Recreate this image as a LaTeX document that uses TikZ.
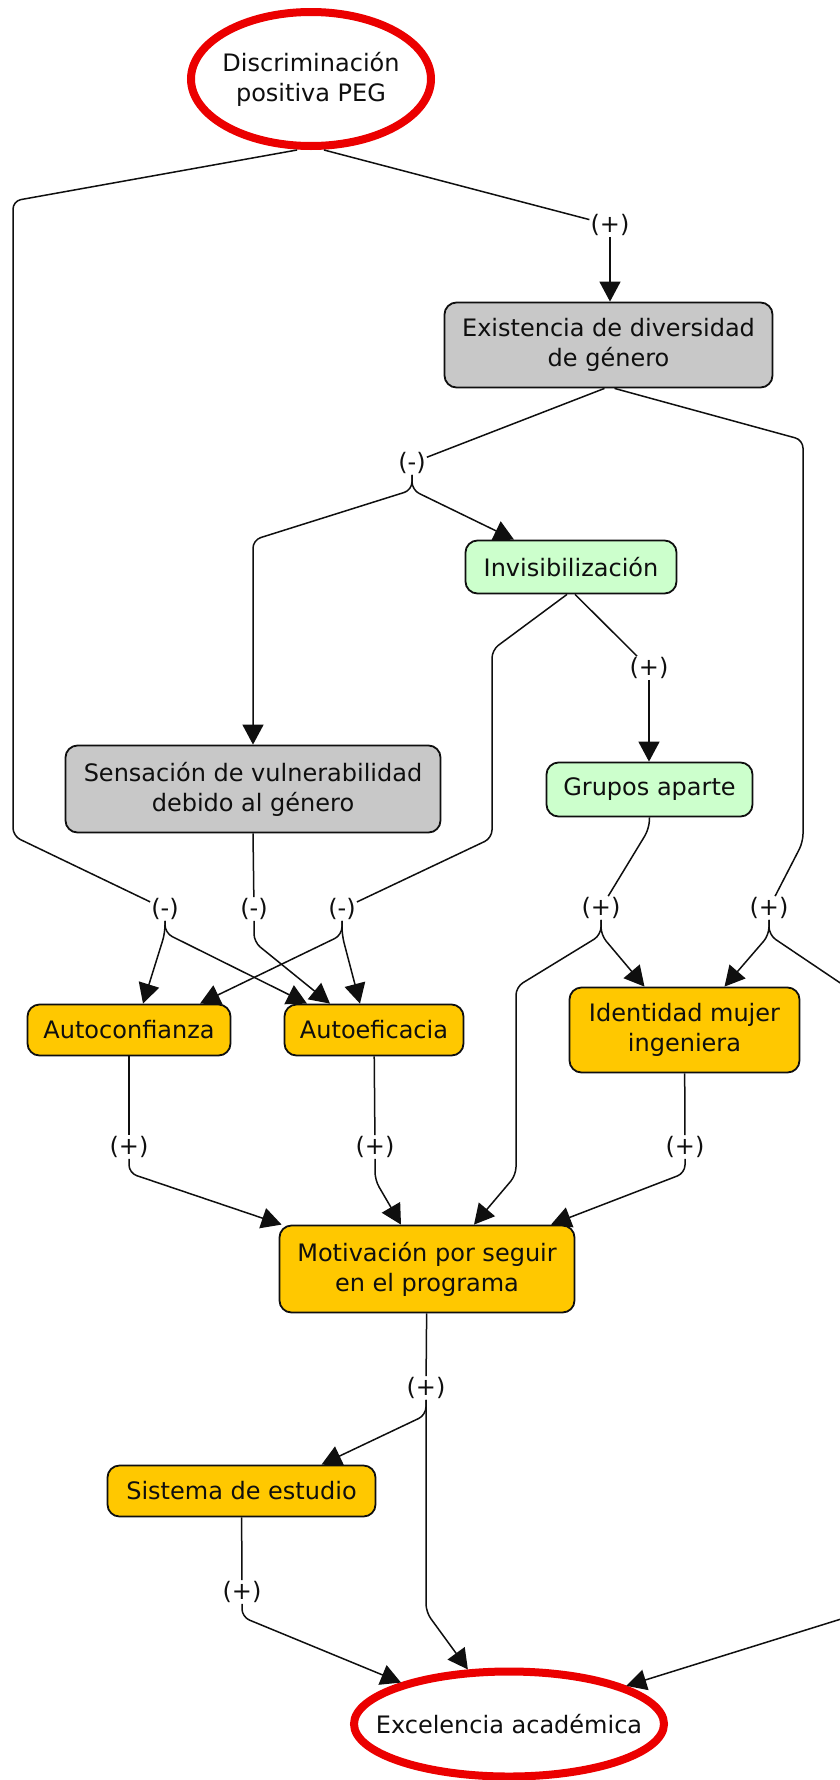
\documentclass[tikz,border=0pt]{standalone}
\usepackage{fontspec}
\setmainfont{DejaVu Sans}
\usetikzlibrary{arrows.meta,calc,shapes.geometric}
\definecolor{boxgray}{RGB}{200,200,200}
\definecolor{boxgreen}{RGB}{204,255,204}
\definecolor{boxorange}{RGB}{255,200,0}
\definecolor{ellred}{RGB}{235,0,0}
\definecolor{inkc}{RGB}{15,15,15}
\begin{document}
\begin{tikzpicture}[x=1pt,y=-1pt,
  every node/.style={font=\fontsize{24}{30}\selectfont, text=inkc},
  box/.style={draw=inkc, line width=1.8pt, rounded corners=12pt, inner sep=2pt, align=center},
  graybox/.style={box, fill=boxgray},
  greenbox/.style={box, fill=boxgreen},
  orangebox/.style={box, fill=boxorange},
  goal/.style={ellipse, draw=ellred, line width=8pt, inner xsep=-30pt, inner ysep=0pt, align=center},
  sign/.style={inner xsep=1pt, inner ysep=1pt},
  conn/.style={draw=inkc, line width=1.5pt, rounded corners=8pt},
  arr/.style={conn, -{Triangle[length=20pt,width=21pt]}},
]
\useasboundingbox (0,0) rectangle (839,1780);
\fill[white] (0,0) rectangle (839,1780);

% main nodes
\node[goal, minimum width=240pt, minimum height=134pt] (D) at (311,79) {Discriminación\\positiva PEG};
\node[graybox, minimum width=328pt, minimum height=85pt] (E) at (608.5,345) {Existencia de diversidad\\de género};
\node[greenbox, minimum width=211pt, minimum height=53pt] (I) at (571,567) {Invisibilización};
\node[graybox, minimum width=375pt, minimum height=87pt] (S) at (253,789) {Sensación de vulnerabilidad\\debido al género};
\node[greenbox, minimum width=206pt, minimum height=54pt] (G) at (649.5,789.5) {Grupos aparte};
\node[orangebox, minimum width=203pt, minimum height=51pt] (AC) at (129,1030) {Autoconfianza};
\node[orangebox, minimum width=179pt, minimum height=51pt] (AE) at (374,1030) {Autoeficacia};
\node[orangebox, minimum width=230pt, minimum height=85pt] (IM) at (684.5,1030) {Identidad mujer\\ingeniera};
\node[orangebox, minimum width=295pt, minimum height=87pt] (M) at (427,1269) {Motivación por seguir\\en el programa};
\node[orangebox, minimum width=268pt, minimum height=51pt] (SE) at (241.5,1491) {Sistema de estudio};
\node[goal, minimum width=310pt, minimum height=105pt] (X) at (509,1724) {Excelencia académica};

% sign labels
\node[sign] (p1) at (610,225) {(+)};
\node[sign] (m1) at (412,463) {(-)};
\node[sign] (p2) at (649,668) {(+)};
\node[sign] (m2) at (165,909) {(-)};
\node[sign] (m3) at (254,909) {(-)};
\node[sign] (m4) at (342,909) {(-)};
\node[sign] (p3) at (601,908) {(+)};
\node[sign] (p4) at (769,908) {(+)};
\node[sign] (p5) at (129,1147) {(+)};
\node[sign] (p6) at (375,1147) {(+)};
\node[sign] (p7) at (685,1147) {(+)};
\node[sign] (p8) at (426,1388) {(+)};
\node[sign] (p9) at (242,1592) {(+)};

% connectors
\draw[conn] ($(D.south)+(13,0)$) -- (p1);
\draw[arr] (p1) -- (p1 |- E.north);
\draw[conn] ($(D.south)+(-14,0)$) -- (13,201) -- (13,836) -- (m2);

\draw[conn] ($(E.south)+(-4,0)$) -- (m1);
\draw[conn] ($(E.south)+(6,0)$) -- (803,440) -- (803,842) -- (p4);

\draw[arr] (m1) -- (412,490) -- (253,540) -- (S.north);
\draw[arr] (m1) -- (412,490) -- ($(I.north)+(-57,0)$);

\draw[conn] ($(I.south)+(-4,0)$) -- (492,650) -- (492,838) -- (m4);
\draw[conn] ($(I.south)+(4,0)$) -- (p2);
\draw[arr] (p2) -- (p2 |- G.north);

\draw[conn] (S.south) -- (m3);
\draw[conn] (G.south) -- (649,829) -- (p3);

\draw[arr] (m2) -- (165,933) -- ($(AC.north)+(14,0)$);
\draw[arr] (m2) -- (165,933) -- ($(AE.north)+(-67,0)$);
\draw[arr] (m3) -- (254,942) -- ($(AE.north)+(-44,0)$);
\draw[arr] (m4) -- (342,935) -- ($(AC.north)+(71,0)$);
\draw[arr] (m4) -- (342,935) -- ($(AE.north)+(-14,0)$);

\draw[arr] (p3) -- (601,935) -- ($(IM.north)+(-40,0)$);
\draw[arr] (p3) -- (601,935) -- (516,987) -- (516,1175) -- ($(M.north)+(47,0)$);
\draw[arr] (p4) -- (769,935) -- ($(IM.north)+(40,0)$);
\draw[arr] (p4) -- (769,935) -- (870,1003) -- (870,1610) -- (X.18);

\draw[conn] (AC) -- (p5);
\draw[arr] (p5) -- (129,1173) -- ($(M.north west)+(3,0)$);
\draw[conn] (AE) -- (p6);
\draw[arr] (p6) -- (375,1180) -- ($(M.north)+(-26,0)$);
\draw[conn] (IM) -- (p7);
\draw[arr] (p7) -- (685,1173) -- ($(M.north)+(124,0)$);

\draw[conn] (M) -- (p8);
\draw[arr] (p8) -- (426,1415) -- ($(SE.north)+(80,0)$);
\draw[arr] (p8) -- (426,1612) -- (X.127);
\draw[conn] (SE) -- (p9);
\draw[arr] (p9) -- (242,1617) -- (X.159);
\end{tikzpicture}
\end{document}
